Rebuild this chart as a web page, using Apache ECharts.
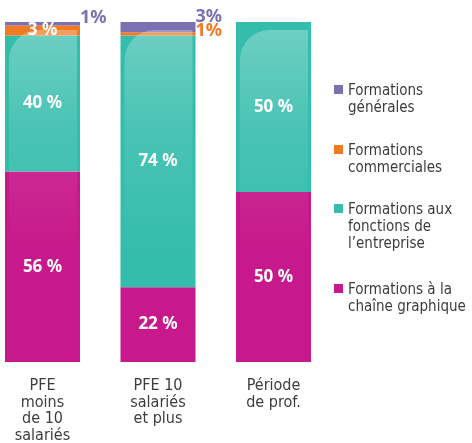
<!DOCTYPE html>
<html>
<head>
<meta charset="utf-8">
<script src="https://cdn.jsdelivr.net/npm/echarts@6/dist/echarts.min.js"></script>
<style>
  html, body { margin: 0; padding: 0; background: #fff; }
  #chart { width: 472px; height: 443px; }
</style>
</head>
<body>
<div id="chart"></div>
<script>
// données
const categories = ['PFE\nmoins\nde 10\nsalariés', 'PFE 10\nsalariés\net plus', 'Période\nde prof.'];
const chaineGraphique = [56, 22, 50];
const fonctionsEntreprise = [40, 74, 50];
const commerciales = [3, 1, 0];
const generales = [1, 3, 0];

const names = [
    'Formations à la\nchaîne graphique',
    'Formations aux\nfonctions de\nl\u2019entreprise',
    'Formations\ncommerciales',
    'Formations\ngénérales'
];
const colors = ['#c7198b', '#35bdac', '#f07b22', '#7a70b2'];

const narrow = '"DejaVu Sans Condensed", "DejaVu Sans", sans-serif';
const BAR_W = 75;

// étiquettes hors de la barre (petites valeurs)
const outside = {
    3: { 0: -6, 1: -10 },
    2: { 1: -3 }
};

function makeData(values, s) {
    return values.map((v, i) => {
        const item = { value: v };
        if (v === 0) {
            item.label = { show: false };
        } else if (outside[s] && outside[s][i] !== undefined) {
            item.label = {
                position: 'right',
                distance: 0,
                offset: [0, outside[s][i]],
                color: colors[s],
                fontSize: 18,
                formatter: '{c}%'
            };
        }
        return item;
    });
}

const seriesValues = [chaineGraphique, fonctionsEntreprise, commerciales, generales];
const totals = categories.map((c, i) => seriesValues.reduce((a, arr) => a + arr[i], 0));

const series = seriesValues.map((vals, s) => ({
    name: names[s],
    type: 'bar',
    stack: 'total',
    barWidth: BAR_W,
    itemStyle: { color: colors[s] },
    label: {
        show: true,
        position: 'inside',
        color: '#fff',
        fontFamily: 'Noto Sans',
        fontWeight: 'bold',
        fontSize: 17,
        formatter: '{c} %'
    },
    data: makeData(vals, s)
}));

// reflet clair sur le haut des barres
series.push({
    type: 'custom',
    silent: true,
    z: 3,
    data: totals.map((t, i) => [i, t]),
    renderItem: (params, api) => {
        const top = api.coord([api.value(0), api.value(1)]);
        const bottom = api.coord([api.value(0), api.value(1) * 0.33]);
        const x = top[0] - BAR_W / 2 + 4;
        const y = top[1] + 8;
        return {
            type: 'rect',
            shape: { x: x, y: y, width: BAR_W - 7, height: bottom[1] - y, r: [30, 0, 0, 0] },
            style: {
                fill: new echarts.graphic.LinearGradient(0, 0, 0, 1, [
                    { offset: 0, color: 'rgba(255,255,255,0.28)' },
                    { offset: 0.45, color: 'rgba(255,255,255,0.1)' },
                    { offset: 1, color: 'rgba(255,255,255,0)' }
                ])
            }
        };
    }
});

// légende : une par entrée pour caler le carré sur la première ligne
const LINE_H = 17;
const legendTops = [282, 202, 143, 83];
const legends = names.map((n, s) => {
    const h = n.split('\n').length * LINE_H;
    return {
        orient: 'vertical',
        left: 334,
        top: legendTops[s],
        padding: 0,
        itemWidth: 9,
        itemHeight: h,
        selectedMode: false,
        icon: `path://M0,0L0,0M0,2H9V11H0ZM9,${h}L9,${h}`,
        textStyle: {
            fontFamily: narrow,
            fontSize: 15,
            lineHeight: LINE_H,
            color: '#3c3c3c'
        },
        data: [n]
    };
});

const chart = echarts.init(document.getElementById('chart'));
chart.setOption({
    animation: false,
    grid: { left: -15.25, width: 346.5, top: 22, height: 340, outerBoundsMode: 'none', containLabel: false },
    legend: legends,
    xAxis: {
        type: 'category',
        data: categories,
        axisLine: { show: false },
        axisTick: { show: false },
        axisLabel: {
            margin: 16,
            interval: 0,
            fontFamily: narrow,
            fontSize: 16,
            lineHeight: 16.5,
            color: '#3c3c3c'
        }
    },
    yAxis: {
        type: 'value',
        min: 0,
        max: 100,
        show: false,
        splitLine: { show: false }
    },
    series: series
});
</script>
</body>
</html>
